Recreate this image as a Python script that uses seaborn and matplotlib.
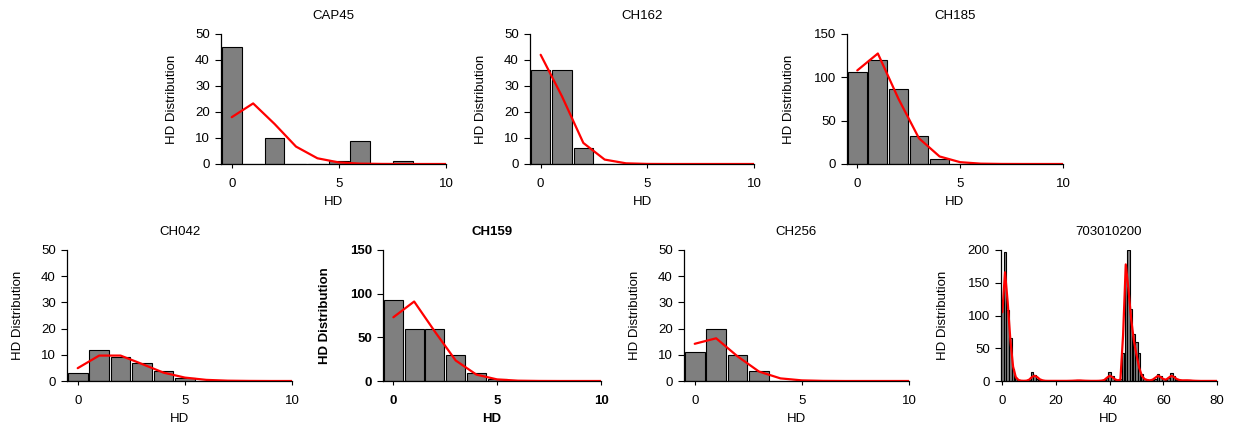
import matplotlib
matplotlib.use("Agg")
import matplotlib.pyplot as plt
import seaborn as sns

# HD values and counts per sample
hd_small = list(range(11))

cap45_counts = [45, 0, 10, 0, 0, 1, 9, 0, 1, 0, 0]
cap45_fit = [18, 23.3, 15.4, 6.7, 2.2, 0.6, 0.13, 0.03, 0, 0, 0]

ch162_counts = [36, 36, 6, 0, 0, 0, 0, 0, 0, 0, 0]
ch162_fit = [42, 26, 8.1, 1.7, 0.26, 0.03, 0, 0, 0, 0, 0]

ch185_counts = [106, 120, 87, 32, 6, 0, 0, 0, 0, 0, 0]
ch185_fit = [108, 127.5, 75.3, 29.6, 8.7, 2.1, 0.4, 0.07, 0.01, 0, 0]

ch042_counts = [3, 12, 9, 7, 4, 1, 0, 0, 0, 0, 0]
ch042_fit = [4.9, 9.7, 9.7, 6.5, 3.2, 1.3, 0.43, 0.12, 0.03, 0, 0]

ch159_counts = [93, 59, 60, 30, 9.6, 2, 0, 0, 0, 0, 0]
ch159_fit = [73, 91, 56.5, 23.5, 7.3, 1.8, 0.37, 0.07, 0, 0, 0]

ch256_counts = [11, 20, 10, 4, 0, 0, 0, 0, 0, 0, 0]
ch256_fit = [14.2, 16.3, 9.4, 3.6, 1.0, 0.24, 0.05, 0, 0, 0, 0]

hd_big = list(range(71))
big_counts = [123, 197, 108, 65, 18, 5, 2, 0, 0, 0,
              1, 13, 9, 3, 1, 0, 0, 0, 0, 0,
              0, 0, 0, 0, 0, 0, 0, 0, 1, 1,
              0, 0, 0, 0, 0, 0, 0, 0, 1, 4,
              13, 8, 2, 1, 3, 42, 177, 200, 110, 72,
              60, 42, 10, 3, 1, 0, 1, 3, 11, 8,
              3, 1, 4, 12, 8, 2, 1, 0, 1, 1,
              1]
hd_big_fit = list(range(81))
big_fit = [105, 166, 120, 62, 22, 6, 1.5, 0.5, 0.3, 0.5,
           2, 6, 8, 6, 2.5, 1, 0.3, 0.2, 0.2, 0.2,
           0.2, 0.2, 0.2, 0.2, 0.2, 0.3, 0.4, 0.6, 0.8, 0.8,
           0.6, 0.4, 0.3, 0.2, 0.2, 0.2, 0.3, 0.6, 1.5, 5,
           8, 6, 2.5, 1, 2, 70, 178, 140, 95, 62,
           40, 20, 8, 3, 1.5, 1, 2, 5, 8, 6,
           3, 2, 5, 8, 6, 3, 1.5, 1, 1, 1,
           0.8, 0.5, 0.3, 0.2, 0.1, 0.1, 0.1, 0.1, 0.1, 0.1,
           0.1]

titles = ["CAP45", "CH162", "CH185", "CH042", "CH159", "CH256", "703010200"]

# pixel boxes: left, right, top, bottom
boxes = [(221, 446, 34, 164), (530, 754, 34, 164), (847, 1063, 34, 164),
         (67, 292, 250, 381), (383, 601, 250, 381), (684, 909, 250, 381),
         (1001, 1217, 250, 381)]

panels = [
    (hd_small, cap45_counts, hd_small, cap45_fit, 10, [0, 10, 20, 30, 40, 50], [0, 5, 10]),
    (hd_small, ch162_counts, hd_small, ch162_fit, 10, [0, 10, 20, 30, 40, 50], [0, 5, 10]),
    (hd_small, ch185_counts, hd_small, ch185_fit, 10, [0, 50, 100, 150], [0, 5, 10]),
    (hd_small, ch042_counts, hd_small, ch042_fit, 10, [0, 10, 20, 30, 40, 50], [0, 5, 10]),
    (hd_small, ch159_counts, hd_small, ch159_fit, 10, [0, 50, 100, 150], [0, 5, 10]),
    (hd_small, ch256_counts, hd_small, ch256_fit, 10, [0, 10, 20, 30, 40, 50], [0, 5, 10]),
    (hd_big, big_counts, hd_big_fit, big_fit, 80, [0, 50, 100, 150, 200], [0, 20, 40, 60, 80]),
]

sns.set_style("ticks")
plt.rcParams["font.family"] = ["Liberation Sans", "DejaVu Sans"]
plt.rcParams["text.color"] = "black"
plt.rcParams["axes.labelcolor"] = "black"
fs = 9.5
plt.rcParams["font.size"] = fs

W, H = 1240, 429
fig = plt.figure(figsize=(W / 100, H / 100), dpi=100)

for title, (l, r, t, b), (hx, hc, fx, fy, xmax, yticks, xticks) in zip(titles, boxes, panels):
    ax = fig.add_axes([l / W, 1 - b / H, (r - l) / W, (b - t) / H])
    weight = "bold" if title == "CH159" else "normal"

    sns.histplot(x=hx, weights=hc, discrete=True, shrink=0.92, color="#7f7f7f",
                 edgecolor="black", linewidth=0.8, alpha=1, ax=ax)
    sns.lineplot(x=fx, y=fy, color="red", linewidth=1.6, ax=ax)

    ax.set_xlim(-0.5, xmax)
    ax.set_ylim(0, yticks[-1])
    ax.set_yticks(yticks)
    ax.set_xticks(xticks)
    sns.despine(ax=ax)
    for s in ("left", "bottom"):
        ax.spines[s].set_linewidth(0.9)
        ax.spines[s].set_color("black")
    ax.tick_params(axis="y", length=4, width=0.8, pad=4, labelsize=fs, colors="black")
    ax.tick_params(axis="x", length=3, width=0.8, pad=7, labelsize=fs, colors="black")
    for lab in ax.get_xticklabels() + ax.get_yticklabels():
        lab.set_fontweight(weight)

    ax.set_title(title, fontsize=fs, pad=11, fontweight=weight, color="black")
    ax.set_xlabel("HD", fontsize=fs, fontweight=weight)
    ax.set_ylabel("HD Distribution", fontsize=fs, fontweight=weight)
    width_px = r - l
    height_px = b - t
    off = 52 if yticks[-1] >= 100 else 43
    ax.yaxis.set_label_coords(-off / width_px, 0.5)
    ax.xaxis.set_label_coords(0.5, -32 / height_px)

fig.savefig("out.png", dpi=100)
